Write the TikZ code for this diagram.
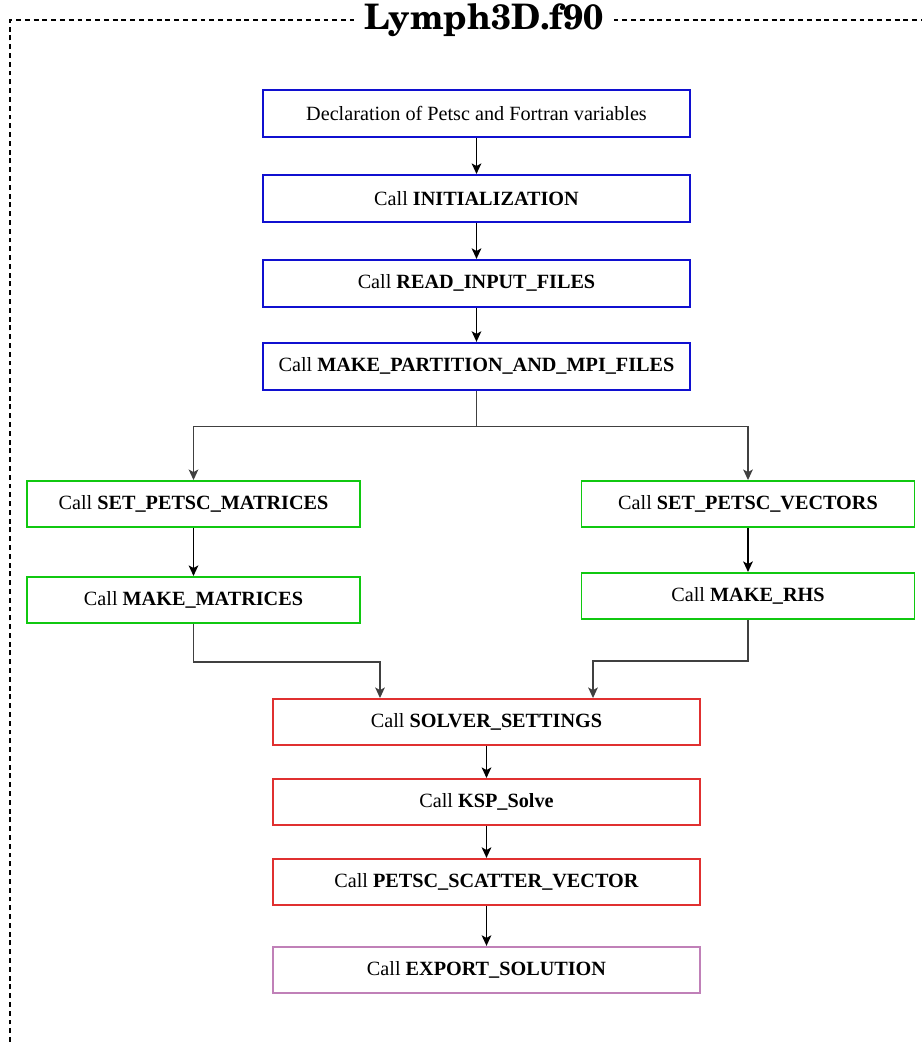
\documentclass[tikz,border=0pt]{standalone}
\usepackage[T1,TU]{fontenc}
\usepackage{fontspec}
\setmainfont{Liberation Serif}
\usepackage{tikz}
\usetikzlibrary{positioning}
\usetikzlibrary{arrows.meta}

\definecolor{boxblue}{HTML}{1010D0}
\definecolor{boxgreen}{HTML}{10C810}
\definecolor{boxred}{HTML}{E03030}
\definecolor{boxpurple}{HTML}{C080B8}

\begin{document}
\begin{tikzpicture}[
    every node/.style={font=\fontsize{11.5}{14}\selectfont},
    callbox/.style={draw, line width=1.1pt, minimum height=0.94cm, inner sep=2pt},
    mainbox/.style={callbox, minimum width=8.54cm},
    sidebox/.style={callbox, minimum width=6.66cm, minimum height=0.92cm},
    tip/.style={-{Stealth[length=6pt,width=5.5pt,inset=1.5pt]}},
    flow/.style={tip, line width=1pt},
    branch/.style={draw=black!75, line width=0.7pt},
    node distance=0.72cm]
    \useasboundingbox (0,0) rectangle (18.44,-20.84);
    % outer frame with title
    \draw[dash pattern=on 2.8pt off 2.2pt, line width=0.7pt] (0.2,-20.84) -- (0.2,-0.4) -- (18.44,-0.4);
    \node (title) [fill=white, inner xsep=6pt] at (9.68,-0.42)
        {\fontsize{20}{24}\fontencoding{T1}\fontfamily{pnc}\fontseries{b}\selectfont Lymph3D.f90};

    % serial part
    \node (decl) [mainbox, draw=boxblue] at (9.53,-2.27) {Declaration of Petsc and Fortran variables};
    \node (init) [mainbox, draw=boxblue, below=of decl] {Call \textbf{INITIALIZATION}};
    \node (read) [mainbox, draw=boxblue, below=of init] {Call \textbf{READ\_INPUT\_FILES}};
    \node (part) [mainbox, draw=boxblue, below=0.68cm of read] {Call \textbf{MAKE\_PARTITION\_AND\_MPI\_FILES}};

    % two branches
    \node (setmat) [sidebox, draw=boxgreen] at (3.87,-10.08) {Call \textbf{SET\_PETSC\_MATRICES}};
    \node (makemat) [sidebox, draw=boxgreen, below=0.96cm of setmat] {Call \textbf{MAKE\_MATRICES}};
    \node (setvec) [sidebox, draw=boxgreen] at (14.96,-10.08) {Call \textbf{SET\_PETSC\_VECTORS}};
    \node (makerhs) [sidebox, draw=boxgreen, below=0.88cm of setvec] {Call \textbf{MAKE\_RHS}};

    % solve part
    \node (solver) [mainbox, draw=boxred, minimum height=0.92cm] at (9.73,-14.44) {Call \textbf{SOLVER\_SETTINGS}};
    \node (ksp) [mainbox, draw=boxred, minimum height=0.92cm, below=0.64cm of solver] {Call \textbf{KSP\_Solve}};
    \node (scatter) [mainbox, draw=boxred, minimum height=0.92cm, below=0.64cm of ksp] {Call \textbf{PETSC\_SCATTER\_VECTOR}};
    \node (export) [mainbox, draw=boxpurple, minimum height=0.92cm, below=0.8cm of scatter] {Call \textbf{EXPORT\_SOLUTION}};

    \coordinate (split) at ([yshift=-0.72cm]part.south);
    \coordinate (joinl) at ([yshift=-0.76cm]makemat.south);
    \coordinate (joinr) at ([yshift=-0.82cm]makerhs.south);

    \draw[flow] (decl) -- (init);
    \draw[flow] (init) -- (read);
    \draw[flow] (read) -- (part);
    \draw[branch] (part.south) -- (split);
    \draw[branch, tip] (split) -| (setmat.north);
    \draw[branch, tip] (split) -| (setvec.north);
    \draw[flow] (setmat) -- (makemat);
    \draw[flow] (setvec) -- (makerhs);
    \draw[branch, tip] (makemat.south) |- (joinl) -| ([xshift=-2.13cm]solver.north);
    \draw[branch, tip] (makerhs.south) |- (joinr) -| ([xshift=2.13cm]solver.north);
    \draw[flow] (solver) -- (ksp);
    \draw[flow] (ksp) -- (scatter);
    \draw[flow] (scatter) -- (export);
\end{tikzpicture}
\end{document}
